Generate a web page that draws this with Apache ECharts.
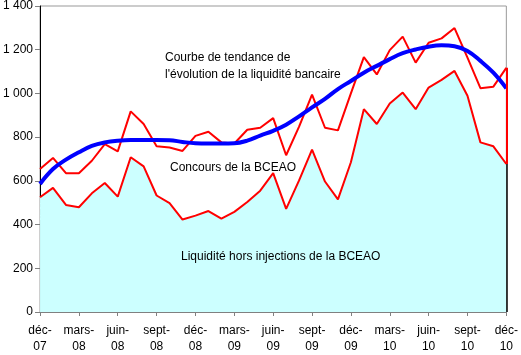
<!DOCTYPE html>
<html>
<head>
<meta charset="utf-8">
<script src="https://cdn.jsdelivr.net/npm/echarts@6/dist/echarts.min.js"></script>
<style>
html,body{margin:0;padding:0;background:#fff;}
#c{width:521px;height:355px;}
</style>
</head>
<body>
<div id="c"></div>
<script>
var categories = ['déc-07','janv-08','févr-08','mars-08','avr-08','mai-08','juin-08','juil-08','août-08','sept-08','oct-08','nov-08',
  'déc-08','janv-09','févr-09','mars-09','avr-09','mai-09','juin-09','juil-09','août-09','sept-09','oct-09','nov-09',
  'déc-09','janv-10','févr-10','mars-10','avr-10','mai-10','juin-10','juil-10','août-10','sept-10','oct-10','nov-10','déc-10'];

// Liquidité hors injections de la BCEAO (lower line, filled area)
var liquiditeHorsInjections = [525,568,490,479,543,590,528,708,666,533,498,423,
  441,462,427,458,503,555,635,472,602,743,597,515,
  685,928,860,954,1004,928,1027,1062,1103,989,776,758,677];

// Liquidité bancaire totale (liquidité + concours de la BCEAO), upper line
var liquiditeTotale = [654,705,635,635,692,768,735,918,860,758,753,737,
  806,825,776,771,834,843,887,717,848,995,843,831,
  1000,1166,1087,1198,1260,1141,1232,1252,1299,1164,1024,1031,1117];

// Courbe de tendance
var tendance = [586,654,697,731,760,776,784,787,787,787,786,778,
  772,771,771,772,784,807,829,857,895,936,975,1020,
  1057,1095,1126,1157,1184,1201,1214,1220,1216,1194,1149,1095,1024];

var yTicks = [0,200,400,600,800,1000,1200,1400];

var labels = {
  tendance: ['Courbe de tendance de', "l'évolution de la liquidité bancaire"],
  concours: 'Concours de la BCEAO',
  liquidite: 'Liquidité hors injections de la BCEAO'
};

var font = '"Liberation Sans", Arial, sans-serif';
var last = categories.length - 1;

var chart = echarts.init(document.getElementById('c'), null, {renderer: 'canvas'});
chart.setOption({
  animation: false,
  backgroundColor: '#fff',
  grid: {left: 40, right: 14.5, top: 5, bottom: 43, show: true, borderColor: '#999', borderWidth: 1, backgroundColor: 'transparent'},
  xAxis: {
    type: 'category',
    data: categories,
    boundaryGap: false,
    axisLine: {lineStyle: {color: '#808080', width: 1}},
    axisTick: {show: true, interval: 2, length: 4, lineStyle: {color: '#808080'}},
    axisLabel: {
      interval: 2, margin: 11, color: '#000', fontFamily: font, fontSize: 12, lineHeight: 16,
      formatter: function (v) { var p = v.split('-'); return p[0] + '-\n' + p[1]; }
    },
    splitLine: {show: false}
  },
  yAxis: {
    type: 'value',
    min: yTicks[0], max: yTicks[yTicks.length - 1], interval: 200,
    axisLine: {show: true, lineStyle: {color: '#000', width: 1}},
    axisTick: {show: true, length: 5, lineStyle: {color: '#808080'}},
    axisLabel: {
      margin: 7, color: '#000', fontFamily: font, fontSize: 12,
      formatter: function (v) { return String(v).replace(/\B(?=(\d{3})+(?!\d))/g, ' '); }
    },
    splitLine: {show: false}
  },
  series: [
    {
      name: 'Liquidité hors injections',
      type: 'line',
      data: liquiditeHorsInjections,
      symbol: 'none',
      lineStyle: {color: '#ff0000', width: 2},
      areaStyle: {color: '#ccffff', opacity: 1},
      z: 2,
      markLine: {
        silent: true, symbol: 'none', label: {show: false},
        data: [
          [{coord: [last, 0], lineStyle: {color: '#000', width: 1.5, type: 'solid'}}, {coord: [last, liquiditeHorsInjections[last]]}],
          [{coord: [last, liquiditeHorsInjections[last]], lineStyle: {color: '#ff0000', width: 2, type: 'solid'}}, {coord: [last, liquiditeTotale[last]]}]
        ]
      }
    },
    {
      name: 'Liquidité totale',
      type: 'line',
      data: liquiditeTotale,
      symbol: 'none',
      lineStyle: {color: '#ff0000', width: 2},
      z: 3
    },
    {
      name: 'Tendance',
      type: 'line',
      data: tendance,
      symbol: 'none',
      smooth: 0.4,
      lineStyle: {color: '#0000ff', width: 4},
      z: 4
    }
  ],
  graphic: [
    {type: 'text', z: 100, left: 165, top: 52, style: {text: labels.tendance[0], font: '12px ' + font, fill: '#000'}},
    {type: 'text', z: 100, left: 165, top: 69, style: {text: labels.tendance[1], font: '12px ' + font, fill: '#000'}},
    {type: 'text', z: 100, left: 170, top: 162, style: {text: labels.concours, font: '12px ' + font, fill: '#000'}},
    {type: 'text', z: 100, left: 181, top: 251, style: {text: labels.liquidite, font: '12px ' + font, fill: '#000'}}
  ]
});
</script>
</body>
</html>
